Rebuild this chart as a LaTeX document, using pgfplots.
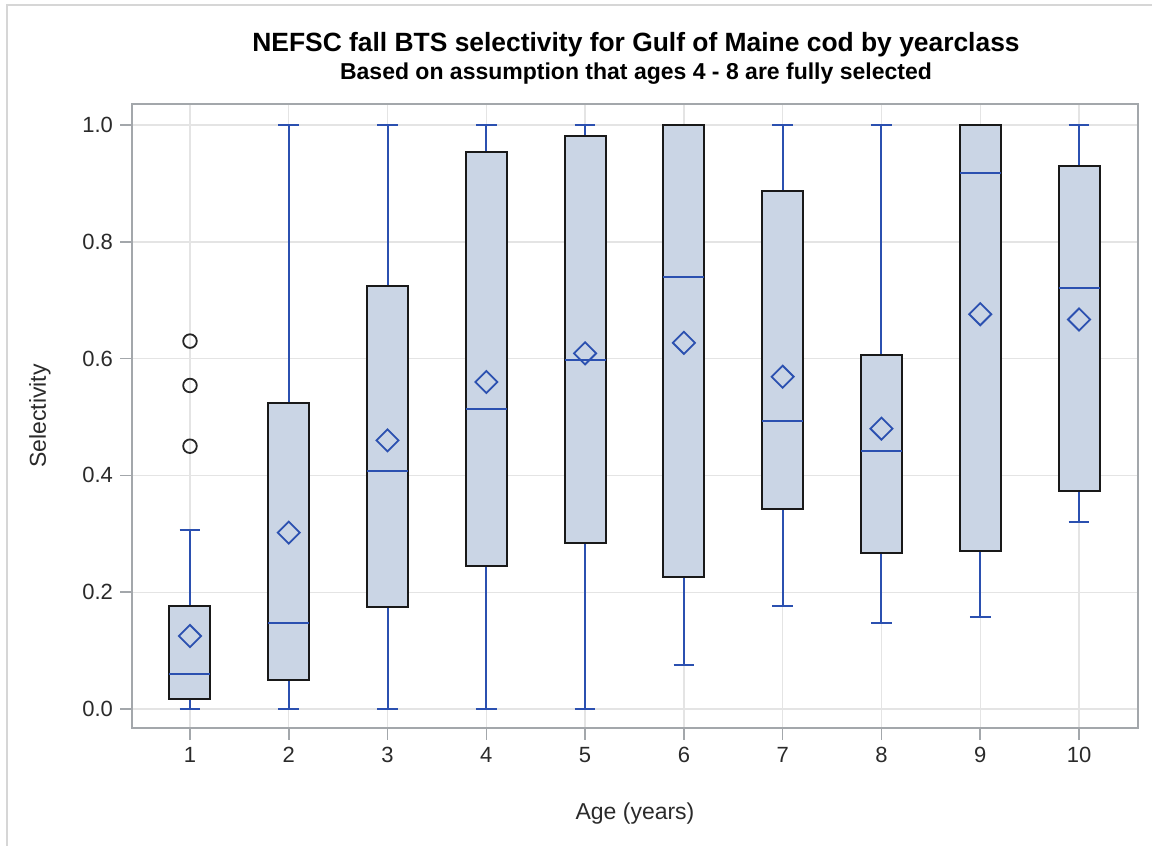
\documentclass[border=0pt]{standalone}
\usepackage{fontspec}
\setmainfont{Liberation Sans}
\usepackage{pgfplots}
\pgfplotsset{compat=1.18}
\usepgfplotslibrary{statistics}
\definecolor{boxfill}{HTML}{CAD5E5}
\definecolor{sasblue}{HTML}{2B50B0}
\definecolor{gridc}{HTML}{E4E4E4}
\definecolor{axc}{HTML}{A3A7AB}
\definecolor{txt}{HTML}{2A2A2A}
\definecolor{framec}{HTML}{D6D6D6}
\begin{document}
\begin{tikzpicture}
\useasboundingbox (0pt,0pt) rectangle (576pt,423pt);
\draw[color=framec, line width=0.8pt] (3.5pt,0pt) -- (3.5pt,420.5pt) -- (576pt,420.5pt);
\begin{axis}[
  at={(66pt,59pt)}, anchor=south west,
  width=503pt, height=312pt, scale only axis,
  xmin=0.413, xmax=10.597, ymin=-0.0325, ymax=1.036,
  xtick={1,2,3,4,5,6,7,8,9,10},
  ytick={0,0.2,0.4,0.6,0.8,1},
  tick pos=left,
  tick align=outside,
  major tick length=6pt,
  every tick/.style={color=axc, line width=0.8pt},
  axis line style={color=axc, line width=0.8pt},
  grid=major,
  major grid style={color=gridc, line width=0.7pt},
  /pgf/number format/assume math mode=true,
  yticklabel style={/pgf/number format/.cd, fixed, fixed zerofill, precision=1},
  ticklabel style={font=\fontsize{11}{13}\selectfont, color=txt},
  xlabel={Age (years)},
  ylabel={Selectivity},
  label style={font=\fontsize{11.5}{13}\selectfont, color=txt},
  xlabel style={at={(axis description cs:0.5,-0.147)}, anchor=base},
  ylabel style={at={(axis description cs:-0.0915,0.5)}, anchor=center},
  cycle list={{sasblue, solid, mark=none, line width=1pt}},
  boxplot/draw direction=y,
  boxplot/box extend=0.415,
  boxplot/whisker extend=0.21,
  boxplot/every box/.style={draw=black!90, solid, fill=boxfill, line width=1pt},
  boxplot/every whisker/.style={draw=sasblue, solid, line width=1pt},
  boxplot/every median/.style={draw=sasblue, solid, line width=1pt},
]
\addplot+[boxplot prepared={draw position=1, lower whisker=0, lower quartile=0.018, median=0.060, upper quartile=0.177, upper whisker=0.306}] coordinates {};
\addplot+[boxplot prepared={draw position=2, lower whisker=0, lower quartile=0.049, median=0.147, upper quartile=0.524, upper whisker=1.0}] coordinates {};
\addplot+[boxplot prepared={draw position=3, lower whisker=0, lower quartile=0.174, median=0.407, upper quartile=0.724, upper whisker=1.0}] coordinates {};
\addplot+[boxplot prepared={draw position=4, lower whisker=0, lower quartile=0.245, median=0.513, upper quartile=0.954, upper whisker=1.0}] coordinates {};
\addplot+[boxplot prepared={draw position=5, lower whisker=0, lower quartile=0.284, median=0.597, upper quartile=0.981, upper whisker=1.0}] coordinates {};
\addplot+[boxplot prepared={draw position=6, lower whisker=0.075, lower quartile=0.226, median=0.740, upper quartile=1.0, upper whisker=1.0}] coordinates {};
\addplot+[boxplot prepared={draw position=7, lower whisker=0.176, lower quartile=0.343, median=0.494, upper quartile=0.887, upper whisker=1.0}] coordinates {};
\addplot+[boxplot prepared={draw position=8, lower whisker=0.147, lower quartile=0.268, median=0.441, upper quartile=0.607, upper whisker=1.0}] coordinates {};
\addplot+[boxplot prepared={draw position=9, lower whisker=0.158, lower quartile=0.271, median=0.917, upper quartile=1.0, upper whisker=1.0}] coordinates {};
\addplot+[boxplot prepared={draw position=10, lower whisker=0.321, lower quartile=0.373, median=0.721, upper quartile=0.929, upper whisker=1.0}] coordinates {};
% means
\addplot[only marks, mark=square, mark size=3.9pt, mark options={rotate=45, draw=sasblue, fill=none, solid, line width=0.9pt}] coordinates {
(1,0.125) (2,0.302) (3,0.460) (4,0.560) (5,0.609) (6,0.627) (7,0.569) (8,0.480) (9,0.676) (10,0.667)};
% outliers
\addplot[only marks, mark=o, mark size=3.4pt, mark options={draw=black!85, fill=none, solid, line width=0.9pt}] coordinates {
(1,0.450) (1,0.554) (1,0.630)};
\end{axis}
\node[anchor=base, font=\bfseries\fontsize{13.2}{15}\selectfont] at (318pt,397pt) {NEFSC fall BTS selectivity for Gulf of Maine cod by yearclass};
\node[anchor=base, font=\bfseries\fontsize{11.5}{13}\selectfont] at (318pt,383pt) {Based on assumption that ages 4 - 8 are fully selected};
\end{tikzpicture}
\end{document}
